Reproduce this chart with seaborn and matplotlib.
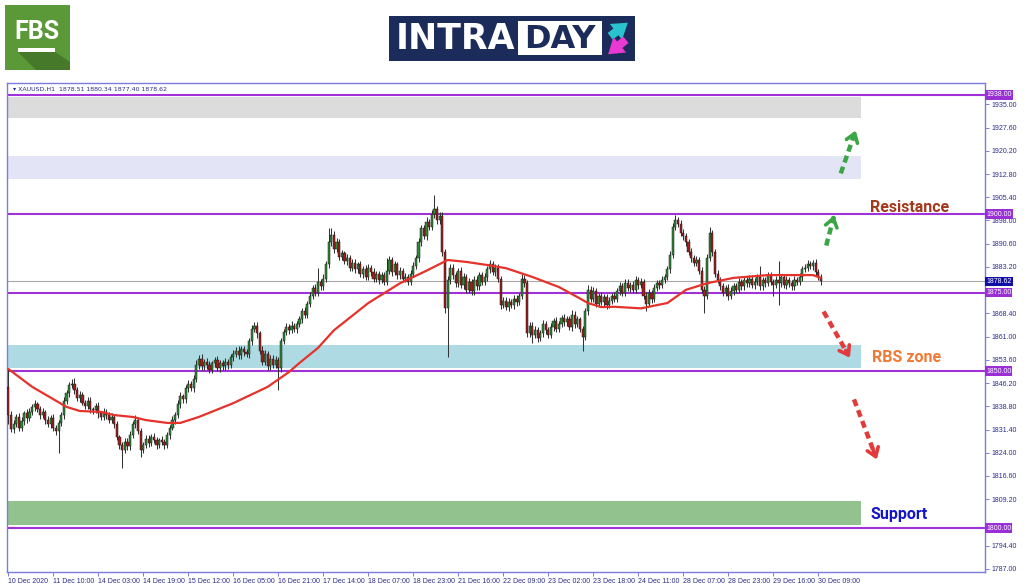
import numpy as np
import pandas as pd
import seaborn as sns
import matplotlib.pyplot as plt
from matplotlib.patches import Rectangle, Polygon
from matplotlib.transforms import blended_transform_factory

# ---- data (XAUUSD H1, one value per bar) ----
first_open = 1845.0
closes = [
    1836, 1831.5, 1833, 1835.5, 1832, 1834, 1836.5, 1835, 1837, 1838.5,
    1839.5, 1838, 1836, 1837, 1834.5, 1833, 1835, 1832, 1831, 1833.5,
    1836, 1840.5, 1843, 1845.5, 1846, 1844, 1841.5, 1842.5, 1840, 1839,
    1840.5, 1838, 1837.5, 1839, 1836.5, 1835.5, 1837, 1836, 1834.5, 1835.5,
    1833, 1829, 1826.5, 1825, 1827.5, 1826, 1829.5, 1833, 1834.5, 1831,
    1825, 1826.5, 1828.5, 1827, 1829, 1828, 1826.5, 1828, 1827.5, 1826.5,
    1829.5, 1832, 1834.5, 1836, 1839.5, 1842, 1841, 1844.5, 1846, 1844.5,
    1847.5, 1852, 1854, 1851.5, 1853, 1852, 1850.5, 1852.5, 1853.5, 1851,
    1852.5, 1851.5, 1853, 1852, 1854.5, 1855.5, 1856.5, 1855, 1857, 1856,
    1855.5, 1859.5, 1863.5, 1864.5, 1862, 1856.5, 1853, 1855.5, 1851.5, 1854,
    1852, 1853.5, 1851, 1859.5, 1862.5, 1864, 1863, 1864.5, 1863.5, 1865,
    1866.5, 1869, 1868, 1871.5, 1874, 1876.5, 1875, 1878.5, 1877, 1879.5,
    1884, 1891, 1893.5, 1889, 1891, 1886.5, 1887.5, 1885, 1886, 1883,
    1884.5, 1882.5, 1884, 1881, 1882.5, 1880, 1883, 1881.5, 1879.5, 1881,
    1879, 1880.5, 1878.5, 1882, 1885.5, 1881.5, 1884, 1880.5, 1882, 1879.5,
    1880, 1878.5, 1881, 1883.5, 1886, 1891, 1895.5, 1893, 1897.5, 1896,
    1900, 1901.5, 1898, 1899.5, 1888, 1870, 1879, 1883, 1880.5, 1878,
    1882, 1877.5, 1880, 1876, 1878.5, 1875.5, 1879, 1877, 1880.5, 1878.5,
    1880, 1882.5, 1884, 1881.5, 1883, 1879.5, 1871, 1872.5, 1870.5, 1872,
    1871, 1873, 1872, 1874, 1879.5, 1878, 1862, 1864.5, 1861.5, 1863,
    1860.5, 1862, 1865, 1863, 1861.5, 1864, 1866, 1863.5, 1865, 1867,
    1865.5, 1866.5, 1864, 1868, 1865, 1866.5, 1863.5, 1861, 1869, 1876,
    1873, 1875.5, 1871.5, 1874, 1872, 1873.5, 1871, 1872.5, 1874, 1873,
    1875.5, 1877, 1875, 1878, 1876.5, 1877.5, 1876, 1879, 1877.5, 1878.5,
    1874, 1871.5, 1875, 1873, 1876.5, 1878, 1877.5, 1879, 1880, 1882.5,
    1887, 1896, 1898, 1897, 1894, 1893, 1891, 1888, 1886, 1884.5,
    1885.5, 1882, 1876, 1874, 1886, 1894, 1888, 1881, 1879, 1877,
    1875, 1876.5, 1874, 1875.5, 1877, 1876, 1878.5, 1877, 1879, 1878,
    1879.5, 1877.5, 1878.5, 1880, 1877, 1879, 1878, 1880.5, 1878.5, 1877.5,
    1879, 1878, 1880, 1877.5, 1879, 1878, 1877, 1879, 1878.5, 1880,
    1882.5, 1883, 1884, 1883.5, 1884.5, 1881.5, 1880, 1878.62,
]
# wick lengths above / below the body of each bar
wick_up = [
    6, 1.2, 1.5, 0.8, 1.0, 1.3, 0.9, 1.5, 1.1, 1.0,
    1.2, 0.8, 1.0, 1.4, 0.7, 1.1, 0.9, 1.2, 0.8, 1.0,
    0.9, 1.3, 1.0, 1.1, 1.5, 1.8, 0.9, 1.2, 1.0, 0.8,
    1.1, 1.3, 0.7, 1.0, 1.2, 0.9, 1.4, 0.8, 1.0, 1.1,
    0.9, 1.2, 0.8, 1.0, 1.3, 1.1, 1.5, 1.2, 1.4, 0.9,
    1.0, 0.8, 1.2, 1.1, 0.9, 1.3, 1.0, 0.8, 1.2, 1.0,
    1.1, 0.9, 1.3, 1.0, 1.2, 1.5, 0.8, 1.1, 1.3, 1.0,
    1.2, 1.4, 1.0, 1.3, 0.9, 1.1, 1.2, 0.8, 1.0, 1.3,
    0.9, 1.1, 1.2, 1.0, 0.8, 1.3, 1.1, 1.4, 0.9, 1.0,
    1.2, 1.0, 1.3, 1.0, 1.2, 0.9, 1.4, 1.1, 1.0, 1.2,
    1.0, 1.3, 1.1, 1.0, 0.9, 1.2, 1.0, 1.4, 0.8, 1.1,
    1.0, 1.2, 1.3, 0.9, 1.1, 1.0, 1.2, 4.5, 1.0, 1.3,
    1.2, 4.6, 2.0, 1.1, 1.4, 1.0, 1.2, 0.9, 1.3, 1.0,
    1.1, 1.3, 0.9, 1.2, 1.0, 1.4, 1.1, 0.8, 1.2, 1.0,
    1.0, 1.2, 1.1, 4.0, 1.3, 1.0, 1.2, 0.9, 1.1, 1.0,
    1.2, 0.9, 1.1, 1.3, 1.0, 1.4, 1.2, 1.0, 1.5, 1.1,
    1.3, 4.5, 1.0, 1.2, 1.1, 0.8, 1.4, 1.2, 1.0, 1.1,
    1.0, 1.2, 1.3, 0.9, 1.1, 1.0, 1.3, 1.2, 1.0, 1.1,
    1.2, 1.0, 1.5, 1.1, 1.0, 1.2, 0.9, 1.1, 1.0, 1.2,
    1.0, 1.1, 1.2, 1.0, 1.5, 1.1, 0.9, 1.2, 1.0, 1.3,
    1.1, 1.0, 1.2, 0.9, 1.1, 1.3, 1.0, 1.2, 1.1, 1.0,
    1.2, 1.0, 1.1, 1.5, 1.0, 1.2, 0.9, 1.0, 1.1, 1.3,
    1.0, 1.2, 1.1, 0.9, 1.3, 1.0, 1.2, 1.1, 1.0, 1.2,
    1.1, 1.3, 1.0, 1.2, 1.5, 1.0, 1.1, 1.2, 1.0, 1.3,
    1.0, 1.2, 1.1, 1.0, 1.3, 1.1, 1.0, 1.2, 1.1, 1.0,
    1.3, 1.2, 1.7, 1.1, 1.0, 1.2, 1.0, 1.1, 1.3, 1.0,
    1.2, 1.0, 1.1, 1.0, 1.2, 2.0, 1.1, 1.0, 1.2, 1.0,
    1.1, 1.0, 1.2, 1.3, 1.0, 1.1, 1.2, 1.0, 1.1, 1.3,
    1.0, 1.2, 1.1, 1.0, 3.5, 1.1, 1.0, 1.2, 1.1, 1.0,
    1.2, 6.0, 1.0, 1.1, 1.2, 1.0, 1.1, 1.3, 1.0, 1.2,
    1.1, 1.0, 1.4, 1.2, 1.0, 1.1, 1.0, 0.9,
]
wick_dn = [
    3, 1.0, 1.3, 0.9, 1.2, 1.0, 1.1, 1.4, 0.8, 1.0,
    1.1, 0.9, 1.2, 1.0, 1.3, 0.8, 1.1, 1.0, 1.2, 7.0,
    1.0, 1.2, 0.9, 1.1, 1.0, 1.3, 1.0, 1.2, 0.8, 1.1,
    1.0, 1.2, 1.1, 0.9, 1.3, 1.0, 1.1, 1.2, 1.0, 0.9,
    1.2, 1.0, 1.3, 6.0, 1.1, 1.0, 1.2, 0.9, 1.1, 1.0,
    2.4, 1.0, 1.1, 1.2, 0.9, 1.0, 1.3, 1.1, 1.0, 1.2,
    1.0, 1.1, 0.9, 1.2, 1.0, 1.1, 1.3, 1.0, 1.2, 0.9,
    1.1, 1.0, 1.2, 1.1, 1.0, 1.3, 1.2, 1.0, 1.1, 1.0,
    1.2, 1.0, 1.1, 1.3, 1.0, 1.2, 1.1, 1.0, 1.2, 1.1,
    1.0, 1.2, 1.1, 1.0, 1.3, 1.0, 1.2, 1.1, 1.0, 1.2,
    1.1, 1.0, 7.0, 1.2, 1.0, 1.1, 1.2, 1.0, 1.1, 1.3,
    1.0, 1.2, 1.1, 1.0, 1.2, 1.1, 1.0, 1.2, 1.1, 1.0,
    1.2, 1.0, 1.1, 1.3, 1.0, 1.2, 1.1, 1.0, 1.2, 1.1,
    1.0, 1.2, 1.1, 1.0, 1.3, 1.1, 1.0, 1.2, 1.1, 1.0,
    1.2, 1.0, 1.1, 1.0, 1.2, 1.1, 1.0, 1.3, 1.1, 1.0,
    1.1, 1.2, 1.0, 1.1, 1.0, 1.2, 1.1, 1.0, 1.2, 1.1,
    1.0, 1.2, 1.1, 1.0, 1.3, 1.5, 15.5, 1.1, 1.0, 1.2,
    1.1, 1.0, 1.2, 1.1, 1.0, 1.3, 1.1, 1.0, 1.2, 1.1,
    1.0, 1.2, 1.1, 1.0, 1.2, 1.1, 1.3, 1.0, 1.1, 1.2,
    1.0, 1.1, 1.2, 1.0, 1.1, 1.2, 1.0, 1.1, 2.5, 1.0,
    1.2, 1.0, 1.1, 1.2, 1.0, 1.1, 1.2, 1.0, 1.1, 1.0,
    1.1, 1.2, 1.0, 1.1, 1.2, 1.0, 1.1, 4.5, 1.0, 1.2,
    1.1, 1.0, 1.2, 1.1, 1.0, 1.2, 1.1, 1.0, 1.2, 1.1,
    1.0, 1.2, 1.1, 1.0, 1.1, 1.2, 1.0, 1.1, 1.2, 1.0,
    1.1, 2.5, 1.0, 1.2, 1.1, 1.0, 1.2, 1.1, 1.0, 1.1,
    1.2, 1.0, 1.1, 1.2, 1.0, 1.1, 1.2, 1.0, 1.1, 1.0,
    1.1, 1.2, 1.0, 5.5, 1.1, 1.0, 1.2, 1.1, 1.0, 1.2,
    1.0, 1.1, 1.2, 1.0, 1.1, 1.2, 1.0, 1.1, 1.0, 1.2,
    1.1, 1.0, 1.2, 1.1, 1.0, 1.2, 1.1, 1.0, 1.1, 3.5,
    1.0, 7.0, 1.1, 1.0, 1.2, 1.1, 1.0, 1.2, 1.1, 1.0,
    1.2, 1.0, 1.1, 1.0, 1.2, 1.1, 1.0, 1.2,
]

# moving average, read at a few bars
ma_idx = [0, 9, 22, 27, 35, 40, 47, 52, 60, 65, 72, 85, 98, 106, 110, 117, 123,
          136, 148, 158, 166, 173, 181, 188, 198, 208, 215, 219, 224, 229, 239,
          249, 256, 264, 274, 287, 299, 304, 307]
ma_val = [1850.7, 1845.0, 1838.6, 1837.3, 1837.0, 1836.0, 1835.4, 1834.4, 1833.5,
          1833.5, 1835.4, 1839.8, 1845.0, 1849.7, 1852.6, 1857.4, 1863.0, 1871.7,
          1878.0, 1882.0, 1885.4, 1884.8, 1883.8, 1882.8, 1880.0, 1876.8, 1873.6,
          1871.7, 1870.4, 1870.5, 1870.0, 1871.7, 1875.9, 1878.0, 1879.7, 1880.6,
          1880.6, 1880.6, 1879.7]

levels = [1938.0, 1900.0, 1875.0, 1850.0, 1800.0]
last_price = 1878.62
zone_lo = [1930.7, 1911.2, 1851.0, 1801.0]
zone_hi = [1937.3, 1918.6, 1858.3, 1808.6]

time_labels = ["10 Dec 2020", "11 Dec 10:00", "14 Dec 03:00", "14 Dec 19:00",
               "15 Dec 12:00", "16 Dec 05:00", "16 Dec 21:00", "17 Dec 14:00",
               "18 Dec 07:00", "18 Dec 23:00", "21 Dec 16:00", "22 Dec 09:00",
               "23 Dec 02:00", "23 Dec 18:00", "24 Dec 11:00", "28 Dec 07:00",
               "28 Dec 23:00", "29 Dec 16:00", "30 Dec 09:00"]
price_ticks = [1935.0, 1927.6, 1920.2, 1912.8, 1905.4, 1898.0, 1890.6, 1883.2,
               1868.4, 1861.0, 1853.6, 1846.2, 1838.8, 1831.4, 1824.0,
               1816.6, 1809.2, 1794.4, 1787.0]

assert len(closes) == len(wick_up) == len(wick_dn)

# ---- style ----
sns.set_theme(style="white")
plt.rcParams['font.family'] = ['Liberation Sans', 'DejaVu Sans']

fig = plt.figure(figsize=(10.24, 5.87), dpi=100)
ax = fig.add_axes([7 / 1024, 15 / 587, 978 / 1024, 489 / 587])

n = len(closes)
idx = np.arange(n)
c = np.array(closes, dtype=float)
o = np.concatenate([[first_open], c[:-1]])
top = np.maximum(o, c)
bot = np.minimum(o, c)
hi = top + np.array(wick_up)
lo = bot - np.array(wick_dn)
body = np.maximum(top - bot, 0.3)
bull = c >= o

x_right = 322  # zones stop here (bar units)
zone_cols = ['#dcdcdc', '#e4e4f7', '#aedbe3', '#92c28e']
for zl, zh, col in zip(zone_lo, zone_hi, zone_cols):
    ax.fill_between([-0.5, x_right], zl, zh, color=col, lw=0, zorder=1)

for lvl in levels:
    ax.axhline(lvl, color='#a032d8', lw=1.5, zorder=2)
ax.axhline(last_price, color='#a8a8a8', lw=0.8, zorder=2)

ax.vlines(idx, lo, hi, color='#333333', lw=0.75, zorder=3)
ax.bar(idx[bull], body[bull], bottom=bot[bull], width=0.82, color='#2f8a36',
       edgecolor='#1a1a1a', lw=0.35, zorder=4)
ax.bar(idx[~bull], body[~bull], bottom=bot[~bull], width=0.82, color='#a11d1d',
       edgecolor='#1a1a1a', lw=0.35, zorder=4)

ma_df = pd.DataFrame({'bar': ma_idx, 'ma': ma_val})
sns.lineplot(data=ma_df, x='bar', y='ma', color='#e5322b', lw=1.6, ax=ax, zorder=5)

ax.set_xlim(-0.5, 369)
ax.set_ylim(1786.0, 1941.8)
ax.set_xlabel('')
ax.set_ylabel('')

tick_col = '#2b2b8c'
ax.set_xticks(np.arange(len(time_labels)) * 17)
ax.set_xticklabels(time_labels, ha='left', fontsize=5, color=tick_col)
ax.yaxis.tick_right()
ax.set_yticks(price_ticks)
ax.set_yticklabels([f'{v:.2f}' for v in price_ticks], fontsize=5, color=tick_col)
ax.tick_params(axis='both', length=3, width=0.6, color='#6a6ad8', pad=1.5,
               bottom=True, right=True, left=False)
for sp in ax.spines.values():
    sp.set_color('#7b7be0')
    sp.set_linewidth(1.0)

# price boxes on the right scale
trans = blended_transform_factory(ax.transAxes, ax.transData)
for lvl in levels:
    ax.text(1.001, lvl, f'{lvl:.2f}', transform=trans, ha='left', va='center',
            fontsize=5, color='white', clip_on=False, zorder=10,
            bbox=dict(boxstyle='square,pad=0.18', fc='#9b2fd6', ec='none'))
ax.text(1.001, last_price, f'{last_price:.2f}', transform=trans, ha='left',
        va='center', fontsize=5, color='white', clip_on=False, zorder=10,
        bbox=dict(boxstyle='square,pad=0.18', fc='#1010a8', ec='none'))

ax.text(0.006, 0.988, '\u25be XAUUSD,H1  1878.51 1880.34 1877.40 1878.62',
        transform=ax.transAxes, ha='left', va='center', fontsize=4.5,
        color=tick_col, family=['DejaVu Sans'])

# zone labels
ax.text(325.6, 1902, 'Resistance', color='#a4381c', fontsize=11.5,
        fontweight='bold', family=['Roboto', 'DejaVu Sans'], va='center')
ax.text(326.4, 1854.5, 'RBS zone', color='#f07a35', fontsize=11.5,
        fontweight='bold', family=['Roboto', 'DejaVu Sans'], va='center')
ax.text(325.6, 1804.2, 'Support', color='#1414c8', fontsize=11.5,
        fontweight='bold', family=['Roboto', 'DejaVu Sans'], va='center')

# dashed direction arrows
def dash_arrow(x0, y0, x1, y1, col):
    ax.plot([x0, x1 - (x1 - x0) * 0.12], [y0, y1 - (y1 - y0) * 0.12],
            color=col, lw=3.2, ls=(0, (1.6, 1.0)), solid_capstyle='butt', zorder=6)
    ax.annotate('', xy=(x1, y1), xytext=(x1 - (x1 - x0) * 0.25, y1 - (y1 - y0) * 0.25),
                arrowprops=dict(arrowstyle='->,head_width=0.35,head_length=0.5',
                                color=col, lw=2.6), zorder=6)

dash_arrow(309.0, 1890.0, 312.3, 1900.5, '#3aa645')
dash_arrow(314.5, 1913.0, 320.5, 1927.5, '#3aa645')
dash_arrow(308.0, 1869.0, 318.5, 1853.5, '#e23b3b')
dash_arrow(319.5, 1841.0, 328.5, 1821.0, '#e23b3b')

# logos (drawn in image pixel coordinates)
lax = fig.add_axes([0, 0, 1, 1], zorder=-1)
lax.set_xlim(0, 1024)
lax.set_ylim(587, 0)
lax.axis('off')
lax.add_patch(Rectangle((5, 5), 65, 65, fc='#5b9838', ec='none'))
lax.add_patch(Polygon([(18, 52), (55, 52), (70, 62), (70, 70), (36, 70)],
                      closed=True, fc='#467a2a', ec='none'))
lax.text(36.5, 32, 'FBS', color='white', fontsize=18, fontweight='bold',
         ha='center', va='center', family=['Roboto', 'DejaVu Sans'])
lax.add_patch(Rectangle((18, 48), 37, 3.5, fc='white', ec='none'))

lax.add_patch(Rectangle((389, 16), 246, 45, fc='#1c2c5a', ec='none'))
lax.add_patch(Rectangle((518, 21), 84, 34, fc='white', ec='none'))
lax.text(396, 39, 'INTRA', color='white', fontsize=25, fontweight='bold',
         ha='left', va='center', family=['DejaVu Sans'])
lax.text(560, 39, 'DAY', color='#1c2c5a', fontsize=23, fontweight='bold',
         ha='center', va='center', family=['DejaVu Sans'])
lax.annotate('', xy=(630, 21), xytext=(608, 38),
             arrowprops=dict(arrowstyle='simple,head_width=1.2,head_length=0.9,tail_width=0.5',
                             fc='#2ac2cf', ec='none'))
lax.annotate('', xy=(606, 56), xytext=(628, 38),
             arrowprops=dict(arrowstyle='simple,head_width=1.2,head_length=0.9,tail_width=0.5',
                             fc='#e83ad2', ec='none'))

fig.savefig('out.png', dpi=100)
